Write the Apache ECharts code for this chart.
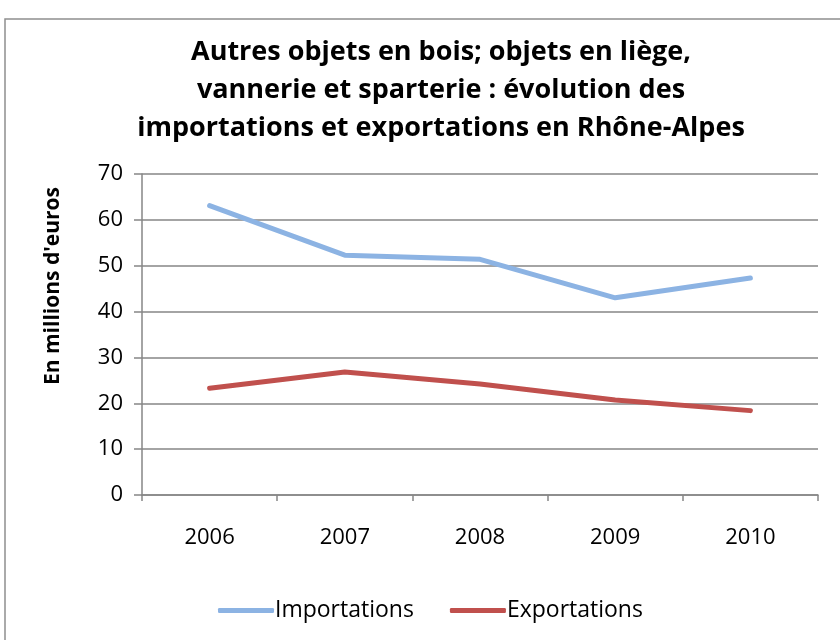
<!DOCTYPE html>
<html>
<head>
    <meta charset="UTF-8"/>
    <title>Importations / exportations</title>
    <style>
        html, body{
            margin: 0;
            background: #fff;
        }
    </style>
    <script src="https://cdn.jsdelivr.net/npm/echarts@6/dist/echarts.min.js"></script>
</head>
<body>
<div id="container" style="width: 840px;height: 640px;"></div>

<script>
  var years = ['2006', '2007', '2008', '2009', '2010'];
  var importations = [63.1, 52.3, 51.4, 43.0, 47.3];
  var exportations = [23.3, 26.8, 24.2, 20.7, 18.4];

  var font = 'Open Sans';
  var axisGrey = '#868686';

  var myChart = echarts.init(document.getElementById('container'));
  var option = {
      animation: false,
      graphic: [{
          type: 'rect',
          shape: {x: 5, y: 19, width: 850, height: 650},
          style: {fill: 'none', stroke: '#8f8f8f', lineWidth: 1.5}
      }, {
          // axis title, placed off-centre like the original
          type: 'text',
          x: 53,
          y: 286,
          rotation: Math.PI / 2,
          style: {
              text: "En millions d'euros",
              fontFamily: font,
              fontSize: 21,
              fontWeight: 'bold',
              fill: '#000',
              align: 'center',
              verticalAlign: 'middle'
          }
      }],
      title: {
          text: 'Autres objets en bois; objets en liège,\nvannerie et sparterie : évolution des\nimportations et exportations en Rhône-Alpes',
          left: 436,
          textAlign: 'center',
          top: 28,
          textStyle: {
              fontFamily: font,
              fontSize: 27,
              fontWeight: 'bold',
              color: '#000',
              lineHeight: 38
          }
      },
      legend: {
          top: 594,
          left: 213,
          itemWidth: 56,
          itemHeight: 5,
          itemGap: 36,
          icon: 'roundRect',
          textStyle: {fontFamily: font, fontSize: 23, color: '#000', padding: [0, 0, 0, -4]},
          data: ['Importations', 'Exportations']
      },
      grid: {left: 142, right: 22, top: 174, bottom: 145},
      xAxis: {
          type: 'category',
          data: years,
          boundaryGap: true,
          axisLine: {lineStyle: {color: axisGrey, width: 1.5}},
          axisTick: {show: true, length: 6, lineStyle: {color: axisGrey, width: 1.5}},
          axisLabel: {fontFamily: font, fontSize: 22, color: '#000', margin: 32}
      },
      yAxis: {
          type: 'value',
          min: 0,
          max: 70,
          interval: 10,
          axisLine: {show: true, lineStyle: {color: axisGrey, width: 1.5}},
          axisTick: {show: true, length: 8, lineStyle: {color: axisGrey, width: 1.5}},
          splitLine: {lineStyle: {color: axisGrey, width: 1.5}},
          axisLabel: {fontFamily: font, fontSize: 22, color: '#000', margin: 19}
      },
      series: [
          {
              name: 'Importations',
              type: 'line',
              data: importations,
              symbol: 'none',
              color: '#8CB3E3',
              lineStyle: {width: 5, color: '#8CB3E3', cap: 'round', join: 'round'}
          },
          {
              name: 'Exportations',
              type: 'line',
              data: exportations,
              symbol: 'none',
              color: '#C0504D',
              lineStyle: {width: 5, color: '#C0504D', cap: 'round', join: 'round'}
          }
      ]
  };
  myChart.setOption(option);
</script>

</body>
</html>
